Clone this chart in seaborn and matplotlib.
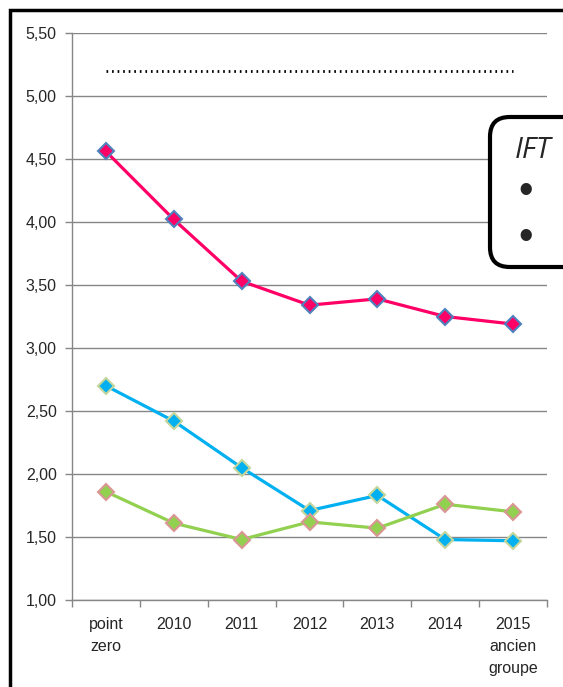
import seaborn as sns
import pandas as pd
from matplotlib import pyplot as plt
from matplotlib.patches import FancyBboxPatch, Rectangle
from matplotlib.ticker import FixedLocator

categories = ['point\nzero', '2010', '2011', '2012', '2013', '2014', '2015\nancien\ngroupe']
pink_values = [4.56, 4.02, 3.53, 3.34, 3.39, 3.25, 3.19]
blue_values = [2.70, 2.42, 2.05, 1.71, 1.83, 1.48, 1.47]
green_values = [1.86, 1.61, 1.48, 1.62, 1.57, 1.76, 1.70]
target_value = 5.20
y_ticks = [1.0, 1.5, 2.0, 2.5, 3.0, 3.5, 4.0, 4.5, 5.0, 5.5]

sns.set_style('white')
plt.rcParams['font.family'] = ['Liberation Sans', 'DejaVu Sans']

fig = plt.figure(figsize=(5.63, 6.87), dpi=100)
ax = fig.add_axes([72 / 563, 1 - 600 / 687, (547 - 72) / 563, (600 - 33) / 687])

pos = list(range(len(categories)))
series = [
    (pink_values, '#FF0066', '#4F81BD'),
    (blue_values, '#00B0F0', '#C3D69B'),
    (green_values, '#92D050', '#D99694'),
]
for vals, col, edge in series:
    df = pd.DataFrame({'x': pos, 'y': vals})
    sns.lineplot(data=df, x='x', y='y', ax=ax, color=col, linewidth=2.3,
                 marker='D', markersize=8.5, markerfacecolor=col,
                 markeredgecolor=edge, markeredgewidth=1.5, sort=False)

target_df = pd.DataFrame({'x': [pos[0], pos[-1]], 'y': [target_value, target_value]})
sns.lineplot(data=target_df, x='x', y='y', ax=ax, color='black', linewidth=2,
             linestyle=(0, (0.6, 1.4)))

ax.set_xlim(-0.5, len(categories) - 0.5)
ax.set_ylim(1.0, 5.5)
ax.set_yticks(y_ticks)
ax.set_yticklabels([f'{v:.2f}'.replace('.', ',') for v in y_ticks])
ax.set_xticks(pos)
ax.set_xticklabels(categories, linespacing=1.6, va='top')
ax.xaxis.set_minor_locator(FixedLocator([p - 0.5 for p in pos] + [pos[-1] + 0.5]))
ax.tick_params(axis='x', which='major', length=0, pad=12, labelsize=11.5, colors='#262626')
ax.tick_params(axis='x', which='minor', length=5, width=1, color='#868686', direction='out', bottom=True)
ax.tick_params(axis='y', length=5, width=1, color='#868686', direction='out', left=True,
               labelsize=11.5, labelcolor='#262626', pad=6)
ax.grid(axis='y', color='#868686', linewidth=1)
ax.set_axisbelow(True)
ax.set_xlabel('')
ax.set_ylabel('')
for side in ['top', 'right']:
    ax.spines[side].set_visible(False)
for side in ['left', 'bottom']:
    ax.spines[side].set_color('#868686')
    ax.spines[side].set_linewidth(1)

# outer frame, cut off by the image edge
fig.patches.append(Rectangle((10 / 563, -0.1), 1.2, 1 - 10 / 687 + 0.1,
                             transform=fig.transFigure, fill=False,
                             edgecolor='black', linewidth=2.5))

# legend box, cut off at the right
box = FancyBboxPatch((490 / 563, 1 - 267 / 687), 0.3, 150 / 687,
                     boxstyle='round,pad=0,rounding_size=0.035',
                     transform=fig.transFigure, facecolor='white',
                     edgecolor='black', linewidth=3, mutation_aspect=563 / 687)
fig.patches.append(box)
fig.text(515 / 563, 1 - 150 / 687, 'IFT', fontsize=21, style='italic',
         family=['Open Sans', 'DejaVu Sans'], va='center', ha='left')
fig.text(518 / 563, 1 - 192 / 687, '\u2022', fontsize=30, va='center', ha='left')
fig.text(518 / 563, 1 - 238 / 687, '\u2022', fontsize=30, va='center', ha='left')

plt.savefig('out.png', dpi=100)
